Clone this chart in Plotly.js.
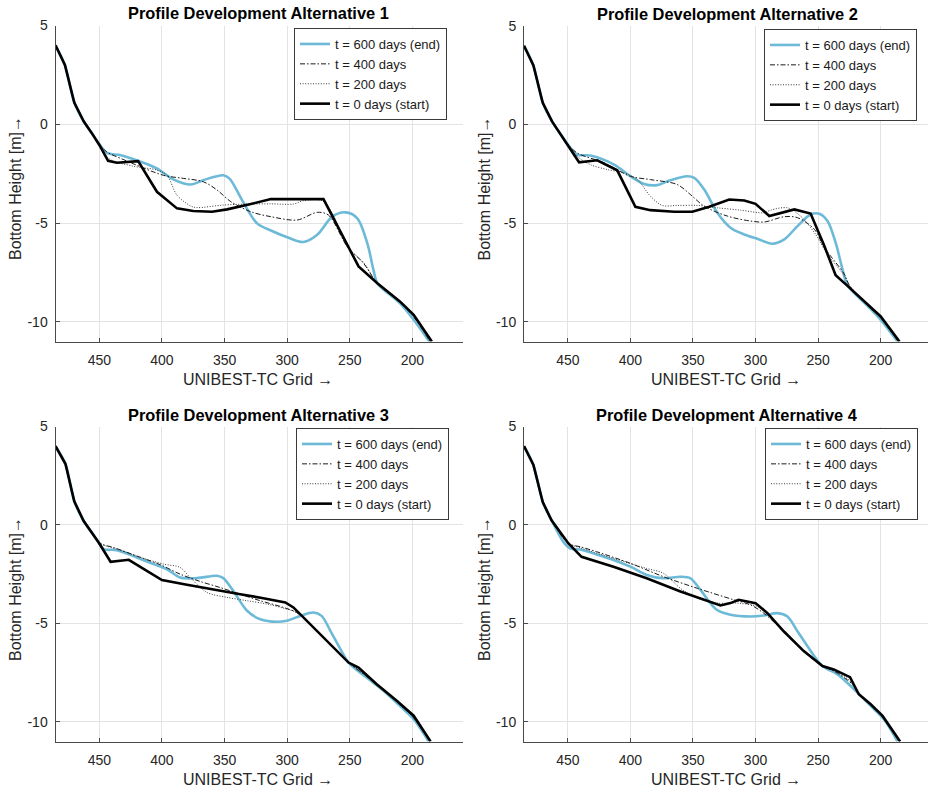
<!DOCTYPE html>
<html>
<head>
<meta charset="utf-8">
<script src="https://cdn.plot.ly/plotly-3.0.1.min.js"></script>
<style>
  html, body { margin: 0; padding: 0; background: #ffffff; }
  #chart { width: 928px; height: 790px; }
</style>
</head>
<body>
<div id="chart"></div>
<script>
// Cross-shore bottom profiles (UNIBEST-TC grid position vs. bottom height in m)
// for four nourishment alternatives at t = 0, 200, 400 and 600 days.

const xTicks = [450, 400, 350, 300, 250, 200];
const yTicks = [5, 0, -5, -10];
const seriesNames = ['t = 600 days (end)', 't = 400 days', 't = 200 days', 't = 0 days (start)'];
const panelTitles = [
  'Profile Development Alternative 1',
  'Profile Development Alternative 2',
  'Profile Development Alternative 3',
  'Profile Development Alternative 4'
];

// ---- Alternative 1 ----
const alt1_t600_x = [485, 477.5, 470, 462.5, 456, 450, 444, 433, 417, 404, 391, 377, 367, 351, 346, 336, 324, 313, 300, 287, 276, 264, 253.5, 244, 236, 231, 228, 210, 199, 186.5];
const alt1_t600_y = [4, 3.0, 1.1, 0.15, -0.45, -1.0, -1.45, -1.57, -1.9, -2.24, -2.79, -3.05, -2.83, -2.58, -2.75, -3.84, -5.02, -5.38, -5.72, -5.96, -5.6, -4.68, -4.46, -4.76, -6.03, -7.4, -8.05, -9.06, -9.9, -11];
const alt1_t400_x = [485, 477.5, 470, 462.5, 456, 450, 444, 431, 399, 383, 367, 356, 345, 329, 313, 292, 276, 267, 252, 239, 228, 210, 199, 186];
const alt1_t400_y = [4, 3.0, 1.1, 0.15, -0.45, -1.0, -1.4, -1.78, -2.58, -2.74, -2.91, -3.33, -3.92, -4.43, -4.68, -4.85, -4.46, -4.6, -6.2, -7.04, -8.05, -9.0, -9.75, -11];
const alt1_t200_x = [485, 477.5, 470, 462.5, 456, 450, 442.6, 423, 404, 396, 388, 377, 372, 351, 329, 313, 295, 287, 272, 264, 252, 239, 228, 210, 199, 186];
const alt1_t200_y = [4, 3.0, 1.1, 0.15, -0.45, -1.0, -1.73, -2.12, -2.32, -2.58, -3.59, -4.14, -4.22, -4.09, -4.04, -4.03, -4.04, -3.87, -3.87, -4.51, -6.2, -7.0, -8.05, -9.0, -9.72, -11];
const alt1_t0_x = [485, 477.5, 470, 462.5, 456, 450, 443, 436, 419, 404, 388, 375, 360, 348, 329, 313, 271, 243, 228, 210, 199, 184.5];
const alt1_t0_y = [4, 3.0, 1.1, 0.15, -0.45, -1.05, -1.85, -1.95, -1.87, -3.42, -4.26, -4.39, -4.43, -4.31, -4.04, -3.79, -3.79, -7.2, -8.05, -8.97, -9.65, -11];

// ---- Alternative 2 ----
const alt2_t600_x = [485, 477.5, 470, 462.5, 456, 450, 442.5, 432, 413, 400, 389, 378.5, 368, 354.5, 349, 341, 330.5, 320, 309, 298.5, 286.5, 277, 266.5, 256, 249, 242.5, 236, 230.5, 226.5, 210.5, 200, 186.5];
const alt2_t600_y = [4, 3.0, 1.1, 0.15, -0.45, -1.0, -1.52, -1.57, -2.03, -2.62, -3.01, -3.07, -2.82, -2.62, -2.70, -3.29, -4.47, -5.23, -5.57, -5.79, -6.04, -5.82, -5.15, -4.56, -4.52, -4.89, -5.99, -7.34, -8.15, -9.19, -9.9, -11];
const alt2_t400_x = [485, 477.5, 470, 462.5, 456, 450, 442.5, 421, 400, 384, 362.5, 352, 341, 322.5, 304, 293, 277, 266.5, 253, 245, 229, 225, 210.5, 200, 186];
const alt2_t400_y = [4, 3.0, 1.1, 0.15, -0.45, -1.0, -1.44, -1.94, -2.62, -2.79, -3.04, -3.55, -4.14, -4.64, -4.89, -4.94, -4.67, -4.72, -5.31, -6.24, -7.59, -8.15, -9.15, -9.8, -11];
const alt2_t200_x = [485, 477.5, 470, 462.5, 456, 450, 442.5, 432, 418.5, 405, 394.5, 384, 374.5, 362.5, 346.5, 330.5, 312, 293, 288, 274.5, 264, 253, 242.5, 229, 225, 210.5, 200, 186];
const alt2_t200_y = [4, 3.0, 1.1, 0.15, -0.45, -1.0, -1.61, -2.03, -2.28, -2.45, -2.79, -3.63, -4.10, -4.10, -4.10, -4.22, -4.34, -4.47, -4.34, -4.22, -4.64, -5.48, -6.58, -7.67, -8.15, -9.15, -9.8, -11];
const alt2_t0_x = [485, 477.5, 470, 462.5, 441, 426.5, 410.5, 396, 384, 365, 350.5, 337, 321, 309, 300, 289, 269, 256, 245, 236, 226.5, 210.5, 200, 185];
const alt2_t0_y = [4, 3.0, 1.1, 0.15, -1.91, -1.81, -2.32, -4.17, -4.34, -4.42, -4.42, -4.17, -3.8, -3.85, -4.02, -4.64, -4.3, -4.51, -6.16, -7.64, -8.18, -9.11, -9.73, -11];

// ---- Alternative 3 ----
const alt3_t600_x = [485, 477, 470, 462.5, 456, 450, 446.5, 436, 420, 406.5, 396, 385.5, 372, 356, 351, 343, 332, 321.5, 308, 300.5, 289.5, 279, 272.5, 265.5, 257.5, 251, 236.5, 223, 210, 199, 187];
const alt3_t600_y = [4, 3.09, 1.2, 0.2, -0.4, -0.95, -1.23, -1.28, -1.65, -1.99, -2.25, -2.67, -2.70, -2.58, -2.70, -3.35, -4.36, -4.79, -4.92, -4.87, -4.62, -4.45, -4.62, -5.38, -6.31, -6.99, -7.75, -8.42, -9.19, -9.86, -11];
const alt3_t400_x = [485, 477, 470, 462.5, 456, 449, 438.5, 417, 401, 385.5, 369.5, 353.5, 337.5, 321.5, 303, 292.5, 279, 263, 251, 236.5, 223, 210, 199, 186];
const alt3_t400_y = [4, 3.09, 1.2, 0.2, -0.4, -0.94, -1.15, -1.65, -2.03, -2.5, -2.87, -3.18, -3.52, -3.85, -4.19, -4.45, -5.21, -6.22, -6.99, -7.7, -8.38, -9.12, -9.8, -11];
const alt3_t200_x = [485, 477, 470, 462.5, 456, 449, 436, 417, 398.5, 385.5, 377.5, 364, 348, 332, 316, 300, 289.5, 279, 263, 251, 236.5, 223, 210, 199, 186];
const alt3_t200_y = [4, 3.09, 1.2, 0.2, -0.4, -0.94, -1.23, -1.65, -1.99, -2.16, -2.67, -3.43, -3.68, -3.85, -4.02, -4.28, -4.53, -5.21, -6.22, -6.99, -7.7, -8.38, -9.12, -9.8, -11];
const alt3_t0_x = [485, 477, 470, 462.5, 450.5, 441, 426.5, 412, 400, 380, 359, 337.5, 319, 301.5, 295, 279, 263, 251, 243, 228.5, 212.5, 199, 185.5];
const alt3_t0_y = [4, 3.09, 1.2, 0.2, -0.89, -1.87, -1.77, -2.33, -2.8, -3.04, -3.26, -3.52, -3.72, -3.94, -4.19, -5.21, -6.22, -6.99, -7.24, -8.09, -8.93, -9.69, -11];

// ---- Alternative 4 ----
const alt4_t600_x = [485, 477.5, 470, 463, 453.5, 448, 440, 427, 413.5, 400, 387, 373.5, 360, 352, 344, 331, 320, 304, 293.5, 282.5, 274.5, 266.5, 258.5, 246.5, 234.5, 218.5, 208, 197.5, 186.5];
const alt4_t600_y = [4, 3.05, 1.16, 0.24, -0.86, -1.2, -1.25, -1.5, -1.78, -2.12, -2.54, -2.71, -2.63, -2.71, -3.3, -4.31, -4.56, -4.65, -4.6, -4.48, -4.65, -5.4, -6.16, -7.17, -7.59, -8.52, -9.19, -9.87, -11];
const alt4_t400_x = [485, 477.5, 470, 463, 449.5, 440, 427, 400, 373.5, 346.5, 317.5, 304, 293.5, 277.5, 261.5, 246.5, 237.5, 222.5, 217.5, 208, 198.5, 185];
const alt4_t400_y = [4, 3.05, 1.16, 0.24, -0.94, -1.11, -1.36, -1.95, -2.63, -3.22, -3.8, -4.06, -4.48, -5.4, -6.41, -7.17, -7.42, -8.1, -8.6, -9.11, -9.75, -11];
const alt4_t200_x = [485, 477.5, 470, 463, 449.5, 440, 413.5, 387, 373.5, 360, 346.5, 330.5, 314.5, 298.5, 290.5, 277.5, 261.5, 246.5, 237.5, 224.5, 217.5, 208, 198.5, 185];
const alt4_t200_y = [4, 3.05, 1.16, 0.24, -0.94, -1.16, -1.7, -2.21, -2.46, -3.22, -3.72, -3.97, -3.97, -4.14, -4.48, -5.4, -6.41, -7.17, -7.39, -7.93, -8.6, -9.11, -9.75, -11];
const alt4_t0_x = [485, 477.5, 470, 463, 449.5, 439, 413.5, 387, 360, 341.5, 328, 320, 313.5, 300, 290.5, 277.5, 261.5, 246.5, 237.5, 224.5, 217.5, 208, 198.5, 184.5];
const alt4_t0_y = [4, 3.05, 1.16, 0.24, -0.94, -1.62, -2.12, -2.71, -3.38, -3.8, -4.09, -3.97, -3.8, -3.97, -4.48, -5.4, -6.41, -7.17, -7.34, -7.73, -8.6, -9.11, -9.7, -11];

const profiles = [
  [[alt1_t600_x, alt1_t600_y], [alt1_t400_x, alt1_t400_y], [alt1_t200_x, alt1_t200_y], [alt1_t0_x, alt1_t0_y]],
  [[alt2_t600_x, alt2_t600_y], [alt2_t400_x, alt2_t400_y], [alt2_t200_x, alt2_t200_y], [alt2_t0_x, alt2_t0_y]],
  [[alt3_t600_x, alt3_t600_y], [alt3_t400_x, alt3_t400_y], [alt3_t200_x, alt3_t200_y], [alt3_t0_x, alt3_t0_y]],
  [[alt4_t600_x, alt4_t600_y], [alt4_t400_x, alt4_t400_y], [alt4_t200_x, alt4_t200_y], [alt4_t0_x, alt4_t0_y]]
];

// Line styles: end state (light blue), intermediate states (dash-dot, dotted), initial state (thick black)
const lineStyles = [
  { color: '#6cbad8', width: 2.6, dash: 'solid', shape: 'spline' },
  { color: '#1a1a1a', width: 1, dash: '5px,2px,1.5px,2px', shape: 'spline' },
  { color: '#3a3a3a', width: 1, dash: '1px,1.6px', shape: 'spline' },
  { color: '#000000', width: 2.6, dash: 'solid', shape: 'linear' }
];

const W = 928, H = 790;
const FONT = 'Liberation Sans, Arial, Helvetica, sans-serif';
const TXT = '#262626';

// Pixel geometry of the 2x2 grid of axes
const boxes = [
  { left: 55.5, right: 462.5, top: 25.5, bottom: 341.5, xr: [485, 160] },
  { left: 524,  right: 928,   top: 26,   bottom: 341.5, xr: [485, 162.2] },
  { left: 55.5, right: 462.5, top: 426.5, bottom: 741.5, xr: [485, 160] },
  { left: 524,  right: 928,   top: 426.5, bottom: 741.5, xr: [485, 162.2] }
];
const legendRight = [447, 917, 449, 918];
const legendTop = [28, 29, 428, 428];

const data = [];
const layout = {
  width: W, height: H,
  margin: { l: 0, r: 0, t: 0, b: 0 },
  paper_bgcolor: '#ffffff',
  plot_bgcolor: '#ffffff',
  font: { family: FONT, color: TXT },
  showlegend: true,
  annotations: []
};

boxes.forEach((b, i) => {
  const n = i + 1;
  const xa = n === 1 ? 'x' : 'x' + n;
  const ya = n === 1 ? 'y' : 'y' + n;
  const legKey = n === 1 ? 'legend' : 'legend' + n;

  profiles[i].forEach((pair, s) => {
    const st = lineStyles[s];
    data.push({
      type: 'scatter', mode: 'lines',
      x: pair[0], y: pair[1],
      xaxis: xa, yaxis: ya,
      name: seriesNames[s],
      legend: legKey,
      line: { color: st.color, width: st.width, dash: st.dash, shape: st.shape, smoothing: 0.9 },
      hoverinfo: 'skip'
    });
  });

  const axCommon = {
    showgrid: true, gridcolor: '#e3e3e3', gridwidth: 1,
    showline: true, linecolor: '#4a4a4a', linewidth: 1, mirror: false,
    ticks: 'inside', ticklen: 4, tickcolor: '#4a4a4a', tickwidth: 1,
    tickfont: { family: FONT, size: 14, color: TXT },
    zeroline: false, fixedrange: true
  };

  layout[n === 1 ? 'xaxis' : 'xaxis' + n] = Object.assign({}, axCommon, {
    domain: [b.left / W, b.right / W],
    anchor: ya, range: b.xr, autorange: false,
    tickmode: 'array', tickvals: xTicks, ticktext: xTicks.map(String),
    ticklabelstandoff: 6
  });
  layout[n === 1 ? 'yaxis' : 'yaxis' + n] = Object.assign({}, axCommon, {
    domain: [1 - b.bottom / H, 1 - b.top / H],
    anchor: xa, range: [-11, 5], autorange: false,
    tickmode: 'array', tickvals: yTicks, ticktext: yTicks.map(String),
    ticklabelstandoff: 4
  });

  layout[legKey] = {
    x: legendRight[i] / W, y: 1 - legendTop[i] / H,
    xanchor: 'right', yanchor: 'top',
    xref: 'paper', yref: 'paper',
    bgcolor: '#ffffff', bordercolor: '#3a3a3a', borderwidth: 1,
    font: { family: FONT, size: 13, color: '#1a1a1a' },
    tracegroupgap: 0, itemclick: false, itemdoubleclick: false
  };

  // Panel title
  layout.annotations.push({
    text: '<b>' + panelTitles[i] + '</b>',
    xref: 'paper', yref: 'paper',
    x: (i % 2 === 1 ? 727 : 258.5) / W, y: 1 - (b.top - 12) / H,
    xanchor: 'center', yanchor: 'middle', showarrow: false,
    font: { family: FONT, size: 16.4, color: '#000000' }
  });
  // X axis title
  layout.annotations.push({
    text: 'UNIBEST-TC Grid \u2192',
    xref: 'paper', yref: 'paper',
    x: (i % 2 === 1 ? 726 : 258) / W, y: 1 - (b.bottom + 38) / H,
    xanchor: 'center', yanchor: 'middle', showarrow: false,
    font: { family: FONT, size: 16, color: TXT }
  });
  // Y axis title
  layout.annotations.push({
    text: 'Bottom Height [m]\u2192',
    xref: 'paper', yref: 'paper',
    x: (i % 2 === 1 ? 484.5 : 15.5) / W, y: 1 - (b.top + 163) / H,
    xanchor: 'center', yanchor: 'middle', showarrow: false, textangle: -90,
    font: { family: FONT, size: 16, color: TXT }
  });
});

Plotly.newPlot('chart', data, layout, { displayModeBar: false, staticPlot: true });
</script>
</body>
</html>
